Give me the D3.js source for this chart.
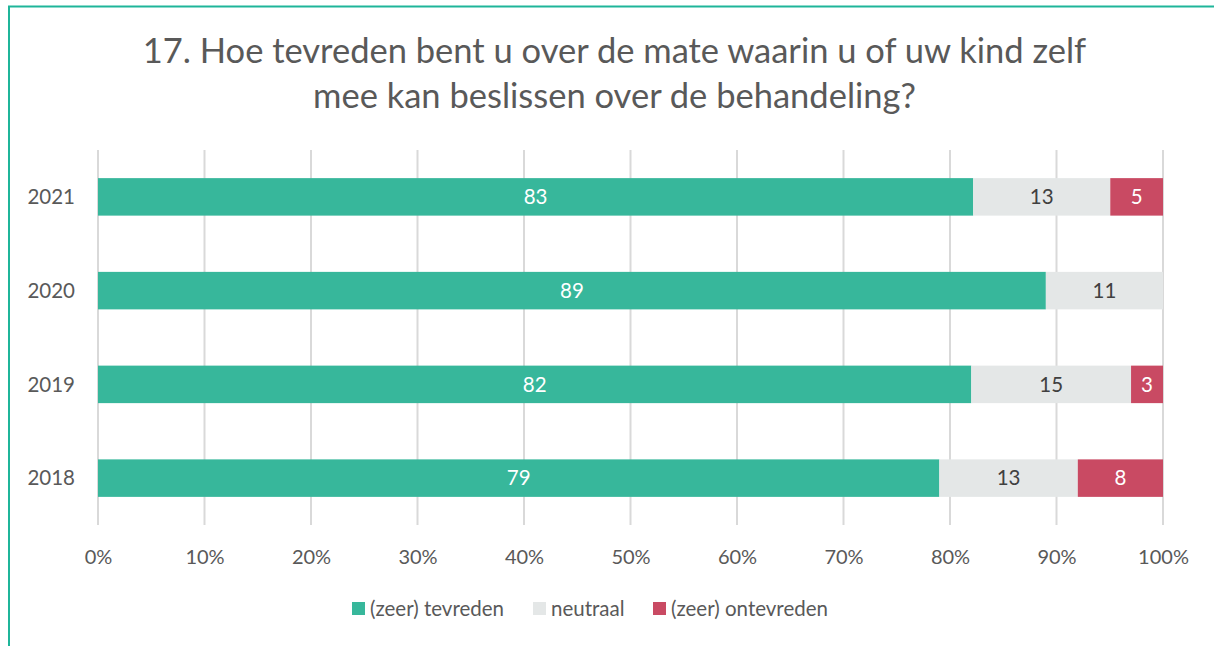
<!DOCTYPE html>
<html>
<head>
<meta charset="utf-8">
<script src="https://cdn.jsdelivr.net/npm/d3@7"></script>
<style>
  body { margin: 0; background: #fff; }
  svg { display: block; font-family: Lato, "Open Sans", sans-serif; }
</style>
</head>
<body>
<svg id="chart" width="1214" height="646"></svg>
<script>
// data
const years = ["2021", "2020", "2019", "2018"];
const seriesNames = ["(zeer) tevreden", "neutraal", "(zeer) ontevreden"];
const tevreden = [83, 89, 82, 79];
const neutraal = [13, 11, 15, 13];
const ontevreden = [5, 0, 3, 8];
const xTicks = [0, 0.1, 0.2, 0.3, 0.4, 0.5, 0.6, 0.7, 0.8, 0.9, 1];

const colors = ["#37b79b", "#e4e7e7", "#c94a63"];
const labelColors = ["#ffffff", "#404040", "#ffffff"];

const svg = d3.select("#chart");

// frame
svg.append("path")
  .attr("d", "M9,646 V6.5 H1214")
  .attr("fill", "none")
  .attr("stroke", "#1fb59a")
  .attr("stroke-width", 2);

// title
const title = svg.append("text")
  .attr("text-anchor", "middle")
  .attr("fill", "#595959")
  .style("font-size", "34.5px");
title.append("tspan").attr("x", 614.5).attr("y", 63)
  .text("17. Hoe tevreden bent u over de mate waarin u of uw kind zelf");
title.append("tspan").attr("x", 614.5).attr("y", 108)
  .text("mee kan beslissen over de behandeling?");

// build table
const rows = years.map((y, i) => ({
  year: y,
  "(zeer) tevreden": tevreden[i],
  "neutraal": neutraal[i],
  "(zeer) ontevreden": ontevreden[i]
}));

const stack = d3.stack().keys(seriesNames).offset(d3.stackOffsetExpand);
const layers = stack(rows);

const x = d3.scaleLinear().domain([0, 1]).range([98, 1163]);
const y = d3.scaleBand().domain(years).range([150, 525]).paddingInner(0.6).paddingOuter(0.3);

// gridlines
svg.append("g")
  .selectAll("line")
  .data(xTicks)
  .join("line")
  .attr("x1", d => x(d)).attr("x2", d => x(d))
  .attr("y1", 150).attr("y2", 525)
  .attr("stroke", "#d9d9d9")
  .attr("stroke-width", 2);

// bars
const layerG = svg.append("g")
  .selectAll("g")
  .data(layers)
  .join("g")
  .attr("fill", (d, i) => colors[i]);

layerG.selectAll("rect")
  .data(d => d)
  .join("rect")
  .attr("x", d => x(d[0]))
  .attr("y", d => y(d.data.year))
  .attr("width", d => x(d[1]) - x(d[0]))
  .attr("height", y.bandwidth());

// value labels
layers.forEach((layer, li) => {
  svg.append("g")
    .selectAll("text")
    .data(layer.filter(d => d.data[layer.key] > 0))
    .join("text")
    .attr("x", d => (x(d[0]) + x(d[1])) / 2)
    .attr("y", d => y(d.data.year) + y.bandwidth() / 2)
    .attr("dy", "0.35em")
    .attr("text-anchor", "middle")
    .attr("fill", labelColors[li])
    .style("font-size", "20.5px")
    .text(d => d.data[layer.key]);
});

// y axis labels
svg.append("g")
  .selectAll("text")
  .data(years)
  .join("text")
  .attr("x", 75)
  .attr("y", d => y(d) + y.bandwidth() / 2)
  .attr("dy", "0.35em")
  .attr("text-anchor", "end")
  .attr("fill", "#595959")
  .style("font-size", "20.5px")
  .text(d => d);

// x axis
const xAxis = svg.append("g")
  .attr("transform", "translate(0,525)")
  .call(d3.axisBottom(x).tickValues(xTicks).tickFormat(d3.format(".0%")).tickSize(0).tickPadding(25));
xAxis.select(".domain").remove();
xAxis.selectAll("text")
  .attr("fill", "#595959")
  .style("font-size", "20px")
  .style("font-family", "Lato, 'Open Sans', sans-serif");

// legend
const legendX = [352, 533, 653];
const legend = svg.append("g")
  .selectAll("g")
  .data(seriesNames)
  .join("g")
  .attr("transform", (d, i) => "translate(" + legendX[i] + ",609)");
legend.append("rect")
  .attr("x", 0).attr("y", -7)
  .attr("width", 13).attr("height", 13)
  .attr("fill", (d, i) => colors[i]);
legend.append("text")
  .attr("x", 18)
  .attr("dy", "0.35em")
  .attr("fill", "#595959")
  .style("font-size", "20.5px")
  .text(d => d);
</script>
</body>
</html>
